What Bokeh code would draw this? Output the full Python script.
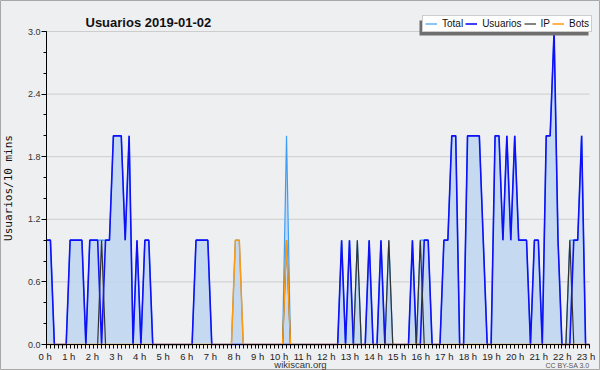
from bokeh.plotting import figure
from bokeh.models import (FixedTicker, Label, Legend, LegendItem, BoxAnnotation,
                          ColumnDataSource, Range1d, PrintfTickFormatter)
from bokeh.embed import file_html
from bokeh.resources import INLINE

# ---- data: one value per 10-minute slot, 0 h .. 23 h ----
hour_labels = ["0 h", "1 h", "2 h", "3 h", "4 h", "5 h", "6 h", "7 h", "8 h", "9 h",
               "10 h", "11 h", "12 h", "13 h", "14 h", "15 h", "16 h", "17 h", "18 h",
               "19 h", "20 h", "21 h", "22 h", "23 h"]

total = [1, 1, 0, 0, 0, 0,  1, 1, 1, 1, 0, 1,  1, 1, 1, 1, 1, 2,  2, 2, 1, 2, 0, 1,
         0, 1, 1, 0, 0, 0,  0, 0, 0, 0, 0, 0,  0, 0, 1, 1, 1, 1,  0, 0, 0, 0, 0, 0,
         1, 1, 0, 0, 0, 0,  0, 0, 0, 0, 0, 0,  0, 2, 0, 0, 0, 0,  0, 0, 0, 0, 0, 0,
         0, 0, 0, 1, 0, 1,  0, 1, 0, 0, 1, 0,  0, 1, 0, 1, 0, 0,  0, 0, 0, 1, 0, 1,
         1, 1, 0, 0, 0, 1,  1, 2, 2, 0, 0, 2,  2, 2, 2, 1, 0, 0,  2, 2, 1, 2, 1, 2,
         1, 1, 1, 0, 1, 1,  0, 2, 2, 3, 1, 0,  0, 1, 1, 1, 2, 0,  0]

usuarios = [1, 1, 0, 0, 0, 0,  1, 1, 1, 1, 0, 1,  1, 1, 0, 1, 1, 2,  2, 2, 1, 2, 0, 1,
            0, 1, 1, 0, 0, 0,  0, 0, 0, 0, 0, 0,  0, 0, 1, 1, 1, 1,  0, 0, 0, 0, 0, 0,
            0, 0, 0, 0, 0, 0,  0, 0, 0, 0, 0, 0,  0, 0, 0, 0, 0, 0,  0, 0, 0, 0, 0, 0,
            0, 0, 0, 1, 0, 1,  0, 0, 0, 0, 1, 0,  0, 1, 0, 0, 0, 0,  0, 0, 0, 1, 0, 0,
            1, 1, 0, 0, 0, 1,  1, 2, 2, 0, 0, 2,  2, 2, 2, 1, 0, 0,  2, 2, 1, 2, 1, 2,
            1, 1, 1, 0, 1, 1,  0, 2, 2, 3, 1, 0,  0, 0, 1, 1, 2, 0,  0]

ip = [0, 0, 0, 0, 0, 0,  0, 0, 0, 0, 0, 0,  0, 0, 1, 0, 0, 0,  0, 0, 0, 0, 0, 0,
      0, 0, 0, 0, 0, 0,  0, 0, 0, 0, 0, 0,  0, 0, 0, 0, 0, 0,  0, 0, 0, 0, 0, 0,
      0, 0, 0, 0, 0, 0,  0, 0, 0, 0, 0, 0,  0, 1, 0, 0, 0, 0,  0, 0, 0, 0, 0, 0,
      0, 0, 0, 0, 0, 0,  0, 1, 0, 0, 0, 0,  0, 0, 0, 1, 0, 0,  0, 0, 0, 0, 0, 1,
      0, 0, 0, 0, 0, 0,  0, 0, 0, 0, 0, 0,  0, 0, 0, 0, 0, 0,  0, 0, 0, 0, 0, 0,
      0, 0, 0, 0, 0, 0,  0, 0, 0, 0, 0, 0,  0, 1, 0, 0, 0, 0,  0]

bots = [0, 0, 0, 0, 0, 0,  0, 0, 0, 0, 0, 0,  0, 0, 0, 0, 0, 0,  0, 0, 0, 0, 0, 0,
        0, 0, 0, 0, 0, 0,  0, 0, 0, 0, 0, 0,  0, 0, 0, 0, 0, 0,  0, 0, 0, 0, 0, 0,
        1, 1, 0, 0, 0, 0,  0, 0, 0, 0, 0, 0,  0, 1, 0, 0, 0, 0,  0, 0, 0, 0, 0, 0,
        0, 0, 0, 0, 0, 0,  0, 0, 0, 0, 0, 0,  0, 0, 0, 0, 0, 0,  0, 0, 0, 0, 0, 0,
        0, 0, 0, 0, 0, 0,  0, 0, 0, 0, 0, 0,  0, 0, 0, 0, 0, 0,  0, 0, 0, 0, 0, 0,
        0, 0, 0, 0, 0, 0,  0, 0, 0, 0, 0, 0,  0, 0, 0, 0, 0, 0,  0]

y_ticks = [0.0, 0.6, 1.2, 1.8, 2.4, 3.0]

slots = list(range(len(total)))
last = len(total) - 1
src = ColumnDataSource(dict(x=slots, total=total, usuarios=usuarios, ip=ip, bots=bots))

# ---- layout: the frame covers the whole canvas; axes are pinned inside it ----
W, H = 600, 370
PL, PR, PT, PB = 46, 589, 31, 344            # pixel box of the plotting area
ymax = 3.0
sx = (PR - PL) / last
sy = (PB - PT) / ymax
x_rng = Range1d(-PL / sx, last + (W - PR) / sx)
y_rng = Range1d(-(H - PB) / sy, ymax + PT / sy)

BG = "#eeeff1"
FONT = "Liberation Sans"

p = figure(width=W, height=H, output_backend="svg", toolbar_location=None,
           x_range=x_rng, y_range=y_rng,
           min_border=0, min_border_left=0, min_border_right=0,
           min_border_top=0, min_border_bottom=0,
           background_fill_color=BG, border_fill_color=BG)
p.title.visible = False
p.outline_line_color = "#a8a8a8"
p.xgrid.visible = False
p.ygrid.visible = False

# horizontal grid lines at the y ticks, spanning the plotting area
p.segment(x0=0, x1=last, y0=y_ticks[1:], y1=y_ticks[1:], line_color="#cdcdcd", line_width=1)

# series
r_fill = p.varea(x="x", y1=0, y2="total", source=src, fill_color="#bcd6ef", fill_alpha=0.82)
r_total = p.line("x", "total", source=src, line_color="#3d9df5", line_width=1.2)
r_usr = p.line("x", "usuarios", source=src, line_color="#1010f8", line_width=1.6)
r_ip = p.line("x", "ip", source=src, line_color="#333333", line_width=1.2)
r_bots = p.line("x", "bots", source=src, line_color="#ff9a10", line_width=1.5)

# x axis: a tick mark at every 10-minute slot, hour labels every 6 slots
label_pos = [k * 6 - (0.35 if len(lab) < 4 else 0.9) for k, lab in enumerate(hour_labels)]
xa = p.xaxis[0]
xa.fixed_location = 0
xa.bounds = (0, last)
xa.ticker = FixedTicker(ticks=label_pos, minor_ticks=slots)
xa.major_label_overrides = {t: lab for t, lab in zip(label_pos, hour_labels)}
xa.major_tick_out = 0
xa.major_tick_in = 0
xa.minor_tick_out = 4
xa.minor_tick_in = 0
xa.major_label_standoff = 2
xa.major_label_text_font = FONT
xa.major_label_text_font_size = "9.5px"
xa.major_label_text_color = "#222222"
xa.axis_line_color = "black"

# y axis
ya = p.yaxis[0]
ya.fixed_location = 0
ya.bounds = (0, ymax)
ya.ticker = FixedTicker(ticks=y_ticks, minor_ticks=[k * 0.2 for k in range(16)])
ya.formatter = PrintfTickFormatter(format="%.1f")
ya.major_tick_out = 5
ya.major_tick_in = 0
ya.minor_tick_out = 3
ya.minor_tick_in = 0
ya.major_label_standoff = 1
ya.major_label_text_font = FONT
ya.major_label_text_font_size = "9px"
ya.major_label_text_color = "#333333"
ya.axis_label = "Usuarios/10 mins"
ya.axis_label_text_font = "DejaVu Sans Mono"
ya.axis_label_text_font_style = "normal"
ya.axis_label_text_font_size = "11px"
ya.axis_label_text_color = "#111111"
ya.axis_label_standoff = 10

# legend shadow + legend (screen units, origin at bottom-left of canvas)
shadow = BoxAnnotation(left=419, right=588, bottom=335, top=350,
                       left_units="screen", right_units="screen",
                       bottom_units="screen", top_units="screen",
                       fill_color="#6e6e6e", fill_alpha=1, line_color=None, level="overlay")
p.add_layout(shadow)

legend = Legend(items=[LegendItem(label="Total", renderers=[r_total]),
                       LegendItem(label="Usuarios", renderers=[r_usr]),
                       LegendItem(label="IP", renderers=[r_ip]),
                       LegendItem(label="Bots", renderers=[r_bots])],
                orientation="horizontal", location=(422, 338),
                glyph_width=12, glyph_height=9, label_height=9, label_width=0,
                label_standoff=5, spacing=2, padding=2, margin=0,
                label_text_font=FONT, label_text_font_size="10px", label_text_color="#111111",
                border_line_color="#9a9a9a", border_line_width=1,
                background_fill_color="white", background_fill_alpha=1, level="overlay")
p.add_layout(legend)

# title and footer texts
p.add_layout(Label(x=85, y=H - 21.5, x_units="screen", y_units="screen",
                   text="Usuarios  2019-01-02", text_font=FONT, text_font_style="bold",
                   text_font_size="13px", text_color="#111111", text_baseline="alphabetic"))
p.add_layout(Label(x=300, y=H - 364, x_units="screen", y_units="screen",
                   text="wikiscan.org", text_font=FONT, text_font_size="9.5px",
                   text_color="#333333", text_align="center", text_baseline="alphabetic"))
p.add_layout(Label(x=589, y=H - 365, x_units="screen", y_units="screen",
                   text="CC BY-SA 3.0", text_font=FONT, text_font_size="7px",
                   text_color="#555555", text_align="right", text_baseline="alphabetic"))

open("out.html", "w").write(file_html(p, INLINE))
